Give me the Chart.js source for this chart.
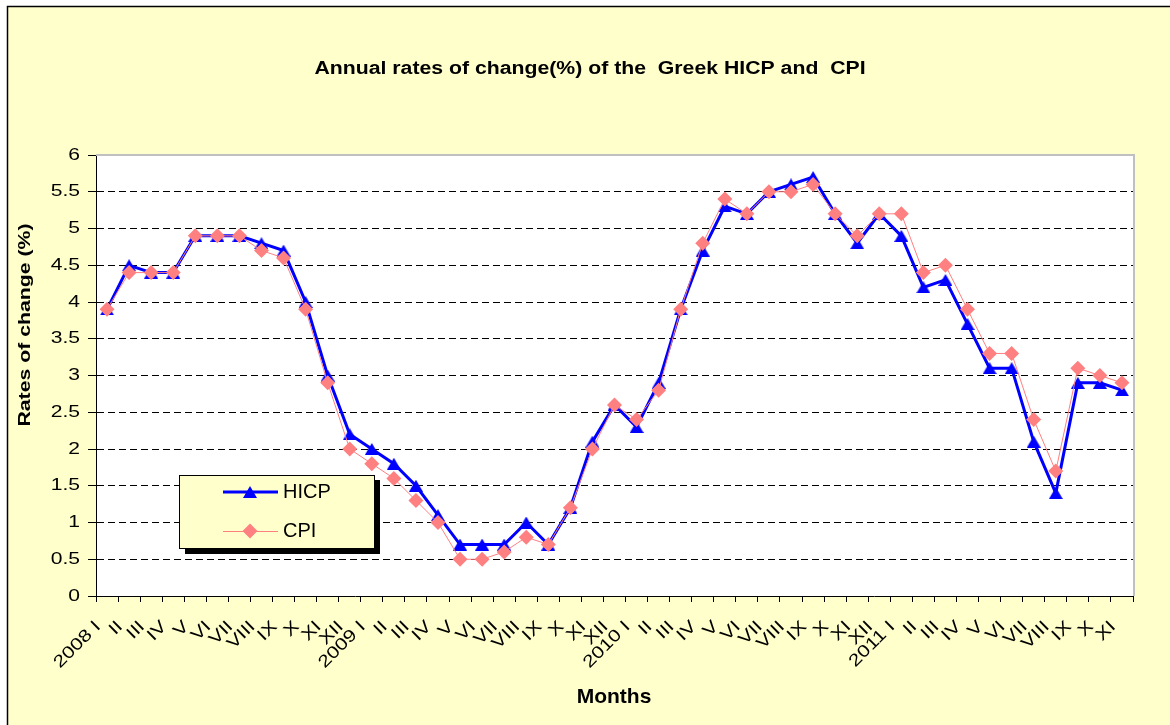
<!DOCTYPE html>
<html>
<head>
<meta charset="utf-8">
<title>Greek HICP and CPI</title>
<script src="https://cdn.jsdelivr.net/npm/chart.js@4.4.1/dist/chart.umd.min.js"></script>
<style>
  html, body { margin: 0; padding: 0; background: #fff; }
  canvas { display: block; }
</style>
</head>
<body>
<canvas id="chart" width="1170" height="725"></canvas>
<script>
const months = [
  '2008 I', 'II', 'III', 'IV', 'V', 'VI', 'VII', 'VIII', 'IX', 'X', 'XI', 'XII',
  '2009 I', 'II', 'III', 'IV', 'V', 'VI', 'VII', 'VIII', 'IX', 'X', 'XI', 'XII',
  '2010 I', 'II', 'III', 'IV', 'V', 'VI', 'VII', 'VIII', 'IX', 'X', 'XI', 'XII',
  '2011 I', 'II', 'III', 'IV', 'V', 'VI', 'VII', 'VIII', 'IX', 'X', 'XI'
];
const hicp = [
  3.9, 4.5, 4.4, 4.4, 4.9, 4.9, 4.9, 4.8, 4.7, 4.0, 3.0, 2.2,
  2.0, 1.8, 1.5, 1.1, 0.7, 0.7, 0.7, 1.0, 0.7, 1.2, 2.1, 2.6,
  2.3, 2.9, 3.9, 4.7, 5.3, 5.2, 5.5, 5.6, 5.7, 5.2, 4.8, 5.2,
  4.9, 4.2, 4.3, 3.7, 3.1, 3.1, 2.1, 1.4, 2.9, 2.9, 2.8
];
const cpi = [
  3.9, 4.4, 4.4, 4.4, 4.9, 4.9, 4.9, 4.7, 4.6, 3.9, 2.9, 2.0,
  1.8, 1.6, 1.3, 1.0, 0.5, 0.5, 0.6, 0.8, 0.7, 1.2, 2.0, 2.6,
  2.4, 2.8, 3.9, 4.8, 5.4, 5.2, 5.5, 5.5, 5.6, 5.2, 4.9, 5.2,
  5.2, 4.4, 4.5, 3.9, 3.3, 3.3, 2.4, 1.7, 3.1, 3.0, 2.9
];
const yTicks = ['0', '0.5', '1', '1.5', '2', '2.5', '3', '3.5', '4', '4.5', '5', '5.5', '6'];

const FONT = '"Liberation Sans", Arial, sans-serif';
const YELLOW = '#FFFFCC';
const BLUE = '#0000FF';
const PINK = '#FF8080';

// triangle marker, centred on its box like the Excel one
const tri = document.createElement('canvas');
tri.width = 14; tri.height = 12;
const tc = tri.getContext('2d');
tc.fillStyle = BLUE;
tc.beginPath(); tc.moveTo(7, 0); tc.lineTo(14, 12); tc.lineTo(0, 12); tc.closePath(); tc.fill();

// text in the picture is drawn wider than normal, so stretch it
function stretchText(ctx, text, x, y, font, stretch, align, rot) {
  ctx.save();
  ctx.translate(x, y);
  if (rot) ctx.rotate(rot);
  ctx.scale(stretch, 1);
  ctx.font = font + ' ' + FONT;
  ctx.textAlign = align;
  ctx.textBaseline = 'middle';
  ctx.fillStyle = '#000';
  ctx.fillText(text, 0, 0);
  ctx.restore();
}

function diamond(ctx, x, y, r) {
  ctx.beginPath();
  ctx.moveTo(x - r, y); ctx.lineTo(x, y - r); ctx.lineTo(x + r, y); ctx.lineTo(x, y + r);
  ctx.closePath();
  ctx.fill();
}

const frame = {
  id: 'frame',
  beforeDraw(chart) {
    const { ctx, chartArea: a } = chart;
    ctx.save();
    ctx.fillStyle = '#fff';
    ctx.fillRect(0, 0, chart.width, chart.height);
    ctx.fillStyle = YELLOW;
    ctx.fillRect(7, 6, chart.width, chart.height);
    ctx.strokeStyle = '#000';
    ctx.lineWidth = 1.5;
    ctx.beginPath();
    ctx.moveTo(7.5, chart.height); ctx.lineTo(7.5, 6.5); ctx.lineTo(chart.width, 6.5);
    ctx.stroke();
    ctx.fillStyle = '#fff';
    ctx.fillRect(a.left, a.top, a.right - a.left, a.bottom - a.top);
    ctx.restore();
  },
  beforeDatasetsDraw(chart) {
    const { ctx, chartArea: a } = chart;
    ctx.save();
    ctx.strokeStyle = '#C0C0C0';
    ctx.lineWidth = 2;
    ctx.beginPath();
    ctx.moveTo(a.left, a.top); ctx.lineTo(a.right + 1, a.top); ctx.lineTo(a.right + 1, a.bottom);
    ctx.stroke();
    ctx.restore();
  },
  afterDraw(chart) {
    const ctx = chart.ctx;
    const xs = chart.scales.x, ys = chart.scales.y;

    stretchText(ctx, 'Annual rates of change(%) of the  Greek HICP and  CPI', 590, 69, 'bold 18px', 1.18, 'center');
    stretchText(ctx, 'Rates of change (%)', 25, 325, 'bold 17px', 1.25, 'center', -Math.PI / 2);
    stretchText(ctx, 'Months', 614, 697, 'bold 21px', 1, 'center');

    yTicks.forEach(t => {
      stretchText(ctx, t, 80, ys.getPixelForValue(parseFloat(t)), '17px', 1.24, 'right');
    });
    months.forEach((m, i) => {
      stretchText(ctx, m, xs.getPixelForValue(i) - 9, 624, '17px', 1.24, 'right', -Math.PI / 4);
    });

    // legend
    ctx.save();
    ctx.fillStyle = '#000';
    ctx.fillRect(185, 480, 195, 74);
    ctx.fillStyle = YELLOW;
    ctx.fillRect(179.5, 475.5, 195, 73);
    ctx.strokeStyle = '#000';
    ctx.lineWidth = 1;
    ctx.strokeRect(179.5, 475.5, 195, 73);

    ctx.strokeStyle = BLUE; ctx.lineWidth = 3;
    ctx.beginPath(); ctx.moveTo(223, 492); ctx.lineTo(278, 492); ctx.stroke();
    ctx.drawImage(tri, 250 - 7, 492 - 6);

    ctx.strokeStyle = PINK; ctx.lineWidth = 1;
    ctx.beginPath(); ctx.moveTo(223, 531.5); ctx.lineTo(278, 531.5); ctx.stroke();
    ctx.fillStyle = PINK;
    diamond(ctx, 250, 531, 7.5);
    ctx.restore();

    stretchText(ctx, 'HICP', 283, 492, '20px', 1, 'left');
    stretchText(ctx, 'CPI', 283, 531, '20px', 1, 'left');
  }
};

new Chart(document.getElementById('chart'), {
  type: 'line',
  data: {
    labels: months,
    datasets: [
      {
        label: 'HICP',
        data: hicp,
        borderColor: BLUE,
        backgroundColor: BLUE,
        borderWidth: 3,
        pointStyle: tri,
        pointRadius: 7,
        tension: 0,
        order: 2
      },
      {
        label: 'CPI',
        data: cpi,
        borderColor: PINK,
        backgroundColor: PINK,
        borderWidth: 1,
        pointStyle: 'rectRot',
        pointRadius: 7.5,
        pointBorderWidth: 0,
        tension: 0,
        order: 1
      }
    ]
  },
  options: {
    responsive: false,
    animation: false,
    devicePixelRatio: 1,
    layout: { padding: { left: 0, top: 155, right: 37, bottom: 0 } },
    plugins: {
      legend: { display: false },
      title: { display: false },
      tooltip: { enabled: false }
    },
    scales: {
      x: {
        type: 'category',
        offset: true,
        afterFit(scale) { scale.height = 129; },
        grid: {
          offset: true,
          drawOnChartArea: false,
          drawTicks: true,
          tickLength: 6,
          tickColor: '#000'
        },
        border: { color: '#000', width: 1 },
        ticks: { display: false, autoSkip: false }
      },
      y: {
        min: 0,
        max: 6,
        afterFit(scale) { scale.width = 96; },
        ticks: { display: false, stepSize: 0.5 },
        grid: {
          color: c => (c.tick && (c.tick.value === 0 || c.tick.value === 6)) ? 'rgba(0,0,0,0)' : '#000',
          tickColor: '#000',
          tickLength: 8
        },
        border: { color: '#000', width: 1, dash: [7, 4] }
      }
    }
  },
  plugins: [frame]
});
</script>
</body>
</html>
